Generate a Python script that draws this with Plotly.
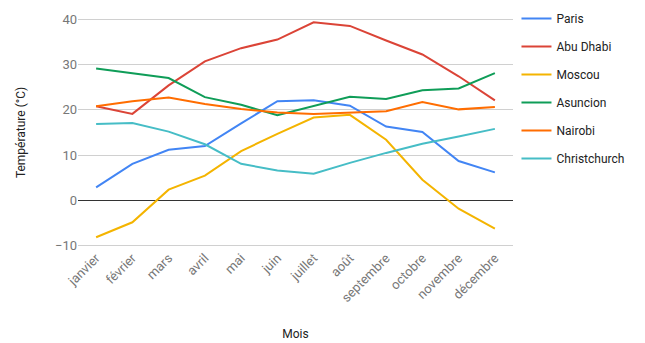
import plotly.graph_objects as go

months = ["janvier", "février", "mars", "avril", "mai", "juin", "juillet",
          "août", "septembre", "octobre", "novembre", "décembre"]

paris = [2.9, 8.1, 11.2, 12.0, 17.0, 21.9, 22.1, 20.9, 16.3, 15.1, 8.7, 6.2]
abu_dhabi = [20.8, 19.1, 25.4, 30.7, 33.6, 35.5, 39.3, 38.5, 35.3, 32.2, 27.4, 22.1]
moscou = [-8.1, -4.8, 2.4, 5.5, 10.9, 14.7, 18.3, 18.9, 13.4, 4.6, -1.8, -6.2]
asuncion = [29.1, 28.1, 27.0, 22.8, 21.1, 18.8, 20.8, 22.9, 22.4, 24.3, 24.7, 28.1]
nairobi = [20.8, 21.9, 22.7, 21.3, 20.2, 19.4, 19.1, 19.4, 19.7, 21.7, 20.1, 20.6]
christchurch = [16.9, 17.1, 15.2, 12.4, 8.1, 6.6, 5.9, 8.3, 10.5, 12.5, 14.1, 15.8]

series = [
    ("Paris", paris, "#4285F4"),
    ("Abu Dhabi", abu_dhabi, "#DB4437"),
    ("Moscou", moscou, "#F4B400"),
    ("Asuncion", asuncion, "#0F9D58"),
    ("Nairobi", nairobi, "#FF6D01"),
    ("Christchurch", christchurch, "#46BDC6"),
]

fig = go.Figure()
for i, (name, vals, color) in enumerate(series):
    fig.add_trace(go.Scatter(
        x=months, y=vals, name=name, mode="lines",
        line=dict(color=color, width=2),
        legendgroup=f"g{i}",
    ))

fig.update_layout(
    width=645, height=343,
    margin=dict(l=78, r=132, t=18, b=96, autoexpand=False),
    paper_bgcolor="white", plot_bgcolor="white",
    font=dict(family="Roboto, Arial, sans-serif", color="#444"),
    showlegend=True,
    legend=dict(
        x=1.008, y=0.988, xanchor="left", yanchor="top", yref="container",
        font=dict(size=12, color="#222"),
        tracegroupgap=9, itemwidth=30,
        bgcolor="rgba(0,0,0,0)",
    ),
    xaxis=dict(
        range=[-0.5, 11.5], tickangle=-45, automargin=False,
        tickfont=dict(size=13, color="#777"),
        showgrid=False, showline=False, ticks="",
        title=dict(text="Mois", font=dict(size=12, color="#222"), standoff=25),
    ),
    yaxis=dict(
        range=[-10.25, 40.25], tickvals=[-10, 0, 10, 20, 30, 40], automargin=False,
        tickfont=dict(size=13, color="#777"),
        gridcolor="#d0d0d0", gridwidth=1,
        zeroline=True, zerolinecolor="#333", zerolinewidth=1,
        showline=False, ticks="",
        title=dict(text="Température (°C)", font=dict(size=12, color="#222"), standoff=26),
    ),
)

fig.write_html("out.html")
